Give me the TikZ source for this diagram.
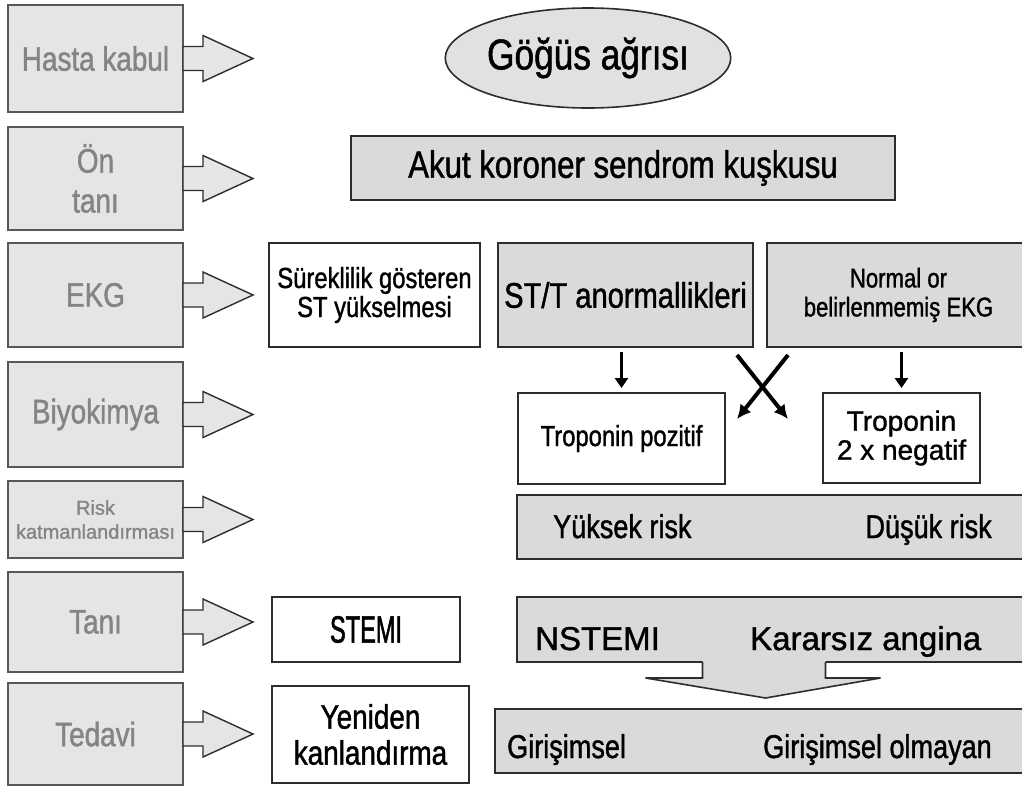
\documentclass[tikz,border=0pt]{standalone}
\usepackage{fontspec}
\setmainfont{Liberation Sans}[FakeStretch=0.82, FakeBold=1.2]
\newfontfamily\widesans{Liberation Sans}[FakeBold=1.2]
\newfontfamily\tightsans{Liberation Sans}[FakeStretch=0.62, FakeBold=1.4]
\usetikzlibrary{positioning, arrows.meta, calc, shapes.geometric}
\definecolor{stagefill}{RGB}{229, 229, 229}
\definecolor{stagetext}{RGB}{132, 132, 132}
\definecolor{bandfill}{RGB}{216, 218, 220}
\definecolor{rim}{RGB}{45, 45, 45}
\newcommand\pts[2]{\fontsize{#1}{#2}\selectfont}

\begin{document}
\begin{tikzpicture}[
    x=1pt, y=-1pt,
    stage/.style={
        rectangle, draw=rim!80, fill=stagefill, line width=1.8pt,
        minimum width=175pt, inner sep=0pt, outer sep=0pt,
        text=stagetext, align=center, font=\pts{34}{40},
    },
    stagearrow/.style={draw=rim, fill=stagefill, line width=1.4pt, line join=miter},
    band/.style={
        rectangle, draw=rim, fill=bandfill, line width=1.8pt,
        inner sep=0pt, outer sep=0pt, align=center, font=\pts{38}{40},
    },
    card/.style={
        rectangle, draw=rim, fill=white, line width=1.8pt,
        inner sep=0pt, outer sep=0pt, align=center, font=\pts{29}{29}},
    bandtext/.style={inner sep=0pt, font=\pts{33}{33}},
    drop/.style={-{Triangle[length=10pt,width=13pt]}, line width=3.5pt,
        shorten <=5pt, shorten >=5pt},
    crossarrow/.style={-{Latex[length=14pt,width=14pt]}, line width=4pt},
]
\useasboundingbox (0,0) rectangle (1022,785);

% --- Stages on the left ---
\node[stage, minimum height=107pt] (hasta)  at (95.5,58.5)  {Hasta kabul};
\node[stage, minimum height=103pt] (ontani) at (95.5,178.5) {Ön\\tanı};
\node[stage, minimum height=104pt] (ekg)    at (95.5,295)   {EKG};
\node[stage, minimum height=105pt] (biyo)   at (95.5,414.5) {Biyokimya};
\node[stage, minimum height=77pt, font=\widesans\pts{20}{24}] (risk) at (95.5,519.5)
    {Risk\\katmanlandırması};
\node[stage, minimum height=100pt] (tani)   at (95.5,622)   {Tanı};
\node[stage, minimum height=102pt] (tedavi) at (95.5,734)   {Tedavi};

\foreach \s in {hasta, ontani, ekg, biyo, risk, tani, tedavi}
    \filldraw[stagearrow] (\s.east) ++(0,-12) -- ++(20,0) -- ++(0,-11)
        -- ++(50,23) -- ++(-50,23) -- ++(0,-11) -- ++(-20,0) -- cycle;

% --- Chest pain and suspicion ---
\node[ellipse, draw=rim, fill=bandfill!80!white, line width=1.6pt,
      minimum width=247pt, minimum height=100pt, inner sep=0pt,
      font=\pts{43}{43}] (gogus) at (588,58) {Göğüs ağrısı};
\node[band, minimum width=544pt, minimum height=64pt] (akut) at (623,168)
    {Akut koroner sendrom kuşkusu};

% --- ECG row ---
\node[card, minimum width=211pt, minimum height=104pt] (surek) at (374.5,295)
    {Süreklilik gösteren\\ST yükselmesi};
\node[band, minimum width=255pt, minimum height=104pt, font=\pts{35.5}{36}] (stt)
    at (625.5,295) {ST/T anormallikleri};
\node[band, minimum width=263pt, minimum height=104pt, font=\pts{27}{29}] (normal)
    at (898.5,295) {Normal or\\belirlenmemiş EKG};

% --- Troponin row ---
\node[card, minimum width=207pt, minimum height=91pt] (tropos) at (621.5,438.5)
    {Troponin pozitif};
\node[card, minimum width=157pt, minimum height=90pt, font=\widesans\pts{28}{29}]
    (troneg) at (901.5,438) {Troponin\\2 x negatif};

\draw[drop] (stt.south -| tropos.north) -- (tropos.north);
\draw[drop] (normal.south -| troneg.north) -- (troneg.north);

\coordinate (xnw) at ($(stt.south east)+(-16,8)$);
\coordinate (xne) at ($(normal.south west)+(21,8)$);
\coordinate (xsw) at ($(tropos.north east)+(12,26)$);
\coordinate (xse) at ($(troneg.north west)+(-35,26)$);
\draw[crossarrow] (xnw) -- (xse);
\draw[crossarrow] (xne) -- (xsw);

% --- Risk bar ---
\node[band, minimum width=513pt, minimum height=64pt] (riskbar) at (773.5,527) {};
\node[bandtext, anchor=base west] (yuksek) at ($(riskbar.west)+(36,11)$) {Yüksek risk};
\node[bandtext, anchor=base east] (dusuk)  at ($(riskbar.east)+(-38,11)$) {Düşük risk};

% --- Diagnosis ---
\node[card, minimum width=188pt, minimum height=65pt, font=\tightsans\pts{38}{38}]
    (stemi) at (366,629.5) {STEMI};
\node[band, minimum width=513pt, minimum height=65pt] (nstemi) at (773.5,629.5) {};
\node[bandtext, anchor=base west, font=\widesans\pts{33}{33}] (nstemitxt)
    at ($(nstemi.west)+(18,20.5)$) {NSTEMI};
\node[bandtext, anchor=base west, font=\widesans\pts{33}{33}] (kararsiz)
    at ($(nstemi.west)+(233,20.5)$) {Kararsız angina};

% --- Treatment ---
\node[card, minimum width=197pt, minimum height=97pt, font=\pts{34}{36}]
    (yeniden) at (370.5,734.5) {Yeniden\\kanlandırma};
\node[band, minimum width=535pt, minimum height=64pt] (giris) at (762.5,741) {};
\node[bandtext, anchor=base west] (girtxt)  at ($(giris.west)+(12,17)$) {Girişimsel};
\node[bandtext, anchor=base east] (girnot)  at ($(giris.east)+(-38,17)$) {Girişimsel olmayan};

% --- Wide arrow between the two bars ---
\coordinate (bigtop) at ($(nstemi.south)+(-10,0)$);
\fill[bandfill] ($(bigtop)+(-61,-2)$) -- ++(0,18) -- ++(-57,0) -- ++(120,20)
    -- ++(115,-20) -- ++(-55,0) -- ++(0,-18) -- cycle;
\draw[rim, line width=1.6pt, line join=miter] ($(bigtop)+(-61,0)$) -- ++(0,16)
    -- ++(-57,0) -- ++(120,20) -- ++(115,-20) -- ++(-55,0) -- ++(0,-16);

\end{tikzpicture}
\end{document}
